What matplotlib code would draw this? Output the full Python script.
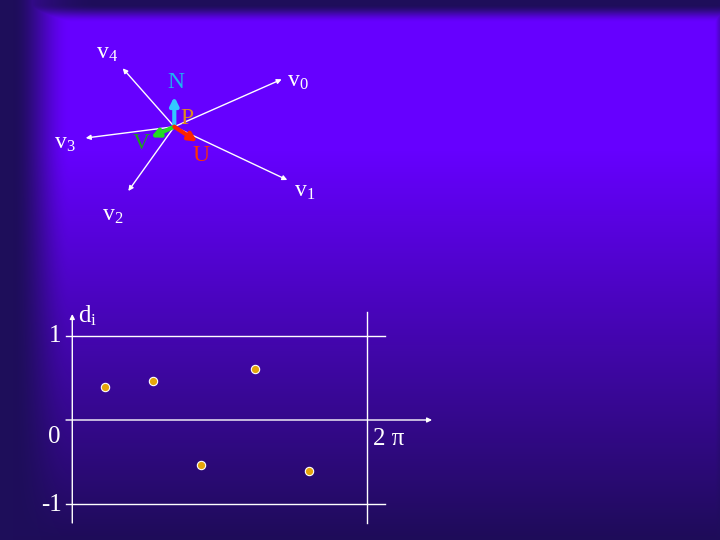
import numpy as np
import matplotlib
matplotlib.use("Agg")
import matplotlib.pyplot as plt

plt.rcParams["font.family"] = ["Liberation Serif", "DejaVu Serif"]
plt.rcParams["mathtext.fontset"] = "custom"
plt.rcParams["mathtext.rm"] = "Liberation Serif"
plt.rcParams["mathtext.it"] = "Liberation Serif:italic"

# star of directions around point p (units: diagram units, y up)
vec_names = ["0", "1", "2", "3", "4"]
vec_dx = [1.074, 1.13, -0.46, -0.886, -0.516]
vec_dy = [0.474, -0.533, -0.643, -0.113, 0.584]

# local frame at p
frame_names = ["N", "V", "U"]
frame_dx = [0.0, -0.233, 0.23]
frame_dy = [0.30, -0.106, -0.15]
frame_colors = ["#33C8FF", "#22DD22", "#FF2200"]
frame_text_colors = ["#1EB4F0", "#1FA01F", "#FF3300"]

# d_i samples
angles = [0.705, 1.73, 2.75, 3.91, 5.06]
d_vals = [0.389, 0.461, -0.539, 0.604, -0.611]

W, H = 720, 540


def make_background():
    yy, xx = np.mgrid[0:H, 0:W].astype(float)
    main = np.array([102, 0, 255]) / 255
    low = np.array([30, 12, 88]) / 255
    edge = np.array([30, 14, 90]) / 255

    t = np.clip((yy - 150) / (H - 150), 0, 1)
    img = main * (1 - t[..., None]) + low * t[..., None]

    def smooth(s):
        s = np.clip(s, 0, 1)
        return s * s * (3 - 2 * s)

    w_left = smooth((70 - xx) / 58)
    w_top = smooth((22 - yy) / 18) * smooth((xx + 40) / 200 + 0.3)
    w_right = smooth((xx - 714) / 6) * 0.35
    w_bot = smooth((yy - 534) / 6) * 0.4
    w = np.maximum.reduce([w_left, w_top, w_right, w_bot])
    img = img * (1 - w[..., None]) + edge * w[..., None]
    return img


fig = plt.figure(figsize=(7.2, 5.4), dpi=100)

bg = fig.add_axes([0, 0, 1, 1])
bg.imshow(make_background(), extent=[0, W, H, 0], aspect="auto")
bg.set_xlim(0, W)
bg.set_ylim(H, 0)
bg.axis("off")

# ---- top diagram ----
ax1 = fig.add_axes([40 / W, 1 - 230 / H, 300 / W, 200 / H])
ax1.set_xlim(-1.343, 1.657)
ax1.set_ylim(-1.033, 0.967)
ax1.axis("off")

for dx, dy in zip(vec_dx, vec_dy):
    ax1.annotate("", xy=(dx, dy), xytext=(0, 0),
                 arrowprops=dict(arrowstyle="-|>", color="white", lw=1.0,
                                 mutation_scale=7, shrinkA=0, shrinkB=0))

vec_label_pos = [(1.232, 0.45), (1.299, -0.646), (-0.615, -0.886),
                 (-1.098, -0.166), (-0.673, 0.73)]
for name, (lx, ly) in zip(vec_names, vec_label_pos):
    ax1.text(lx, ly, r"v$_\mathrm{%s}$" % name, color="white", fontsize=17,
             ha="center", va="center")

for dx, dy, c in zip(frame_dx, frame_dy, frame_colors):
    ax1.annotate("", xy=(dx, dy), xytext=(0, 0),
                 arrowprops=dict(arrowstyle="-|>", color=c, lw=3.0,
                                 mutation_scale=12, shrinkA=0, shrinkB=0))

frame_label_pos = [(0.015, 0.447), (-0.335, -0.171), (0.265, -0.29)]
for name, (lx, ly), c in zip(frame_names, frame_label_pos, frame_text_colors):
    ax1.text(lx, ly, name, color=c, fontsize=17, ha="center", va="center")
ax1.text(0.124, 0.084, "P", color="#E08A1E", fontsize=17, ha="center", va="center")

# ---- d_i plot ----
ax2 = fig.add_axes([40 / W, 1 - 530 / H, 410 / W, 230 / H])
ax2.set_xlim(-0.689, 8.062)
ax2.set_ylim(-1.3095, 1.4286)
ax2.axis("off")

two_pi = 2 * np.pi
for yv in [1, -1]:
    ax2.plot([-0.134, 6.674], [yv, yv], color="white", lw=1.0)
ax2.plot([two_pi, two_pi], [-1.226, 1.286], color="white", lw=1.0)
ax2.annotate("", xy=(7.68, 0), xytext=(-0.134, 0),
             arrowprops=dict(arrowstyle="-|>", color="white", lw=1.0,
                             mutation_scale=7, shrinkA=0, shrinkB=0))
ax2.annotate("", xy=(0, 1.262), xytext=(0, -1.226),
             arrowprops=dict(arrowstyle="-|>", color="white", lw=1.0,
                             mutation_scale=7, shrinkA=0, shrinkB=0))

ax2.plot(angles, d_vals, "o", ms=6, mfc="#E6A50A", mec="white", mew=0.8)

ax2.text(-0.363, 1.0, "1", color="white", fontsize=18, ha="center", va="center")
ax2.text(-0.391, -0.202, "0", color="white", fontsize=18, ha="center", va="center")
ax2.text(-0.433, -1.008, "-1", color="white", fontsize=18, ha="center", va="center")
ax2.text(6.753, -0.226, "2 π", color="white", fontsize=18, ha="center", va="center")
ax2.text(0.32, 1.238, r"d$_\mathrm{i}$", color="white", fontsize=18,
         ha="center", va="center")

fig.savefig("out.png", dpi=100)
